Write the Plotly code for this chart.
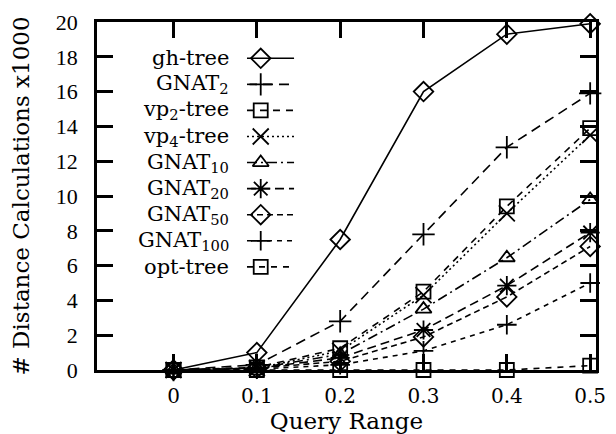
import plotly.graph_objects as go

# ---------------- data ----------------
query_range = [0, 0.1, 0.2, 0.3, 0.4, 0.5]
x_tick_labels = ["0", "0.1", "0.2", "0.3", "0.4", "0.5"]
y_tick_values = [0, 2, 4, 6, 8, 10, 12, 14, 16, 18, 20]

series_names = ["gh-tree", "GNAT<sub>2</sub>", "vp<sub>2</sub>-tree", "vp<sub>4</sub>-tree",
                "GNAT<sub>10</sub>", "GNAT<sub>20</sub>", "GNAT<sub>50</sub>",
                "GNAT<sub>100</sub>", "opt-tree"]

gh_tree = [0.0, 1.0, 7.5, 16.0, 19.3, 19.9]
gnat_2 = [0.0, 0.3, 2.8, 7.8, 12.8, 15.9]
vp2_tree = [0.0, 0.15, 1.25, 4.5, 9.4, 13.9]
vp4_tree = [0.0, 0.1, 1.1, 4.3, 9.0, 13.5]
gnat_10 = [0.0, 0.1, 0.9, 3.5, 6.45, 9.8]
gnat_20 = [0.0, 0.1, 0.7, 2.3, 4.85, 7.9]
gnat_50 = [0.0, 0.1, 0.5, 1.9, 4.2, 7.1]
gnat_100 = [0.0, 0.05, 0.3, 1.1, 2.6, 5.0]
opt_tree = [0.0, 0.0, 0.0, 0.0, 0.0, 0.25]

all_series = [gh_tree, gnat_2, vp2_tree, vp4_tree, gnat_10, gnat_20, gnat_50, gnat_100, opt_tree]

# ---------------- styles ----------------
symbols = ["diamond-open", "cross-thin-open", "square-open", "x-thin-open",
           "triangle-up-open", "asterisk-open", "diamond-open", "cross-thin-open", "square-open"]
sizes = [15, 16, 14, 16, 14, 16, 15, 14, 14]
dashes = ["solid", "10px,6px", "7px,6px", "2px,3px", "10px,4px,2px,4px",
          "9px,5px", "6px,4px", "5px,5px", "6px,6px"]

FONT = "DejaVu Serif"
BLACK = "#000000"

fig = go.Figure()

for name, vals, sym, sz, dash in zip(series_names, all_series, symbols, sizes, dashes):
    fig.add_trace(go.Scatter(
        x=query_range, y=vals, mode="lines+markers", name=name,
        line=dict(color=BLACK, width=1.6, dash=dash),
        marker=dict(symbol=sym, size=sz, color=BLACK, line=dict(color=BLACK, width=1.8)),
        cliponaxis=False, showlegend=False,
    ))

# ------------- custom legend (text left, sample on right) -------------
leg_top = 52
leg_step = 26.6
text_right = 234
sample_x0, sample_mid, sample_x1 = 250, 264, 298
for i, (name, sym, sz, dash) in enumerate(zip(series_names, symbols, sizes, dashes)):
    yy = leg_top + i * leg_step
    fig.add_trace(go.Scatter(
        x=[sample_x0, sample_mid, sample_x1], y=[yy, yy, yy], xaxis="x2", yaxis="y2",
        mode="lines", line=dict(color=BLACK, width=1.6, dash=dash),
        showlegend=False, hoverinfo="skip", cliponaxis=False,
    ))
    fig.add_trace(go.Scatter(
        x=[sample_mid], y=[yy], xaxis="x2", yaxis="y2", mode="markers",
        marker=dict(symbol=sym, size=sz, color=BLACK, line=dict(color=BLACK, width=1.8)),
        showlegend=False, hoverinfo="skip", cliponaxis=False,
    ))
    fig.add_annotation(x=text_right, y=yy, xref="x2", yref="y2", text=name,
                       showarrow=False, xanchor="right", yanchor="middle",
                       font=dict(family=FONT, size=21, color=BLACK))

axis_common = dict(
    showline=True, linecolor=BLACK, linewidth=2.5, mirror="ticks",
    ticks="inside", tickcolor=BLACK, tickwidth=2.5, ticklen=16,
    showgrid=False, zeroline=False,
)

fig.update_layout(
    width=616, height=434,
    margin=dict(l=97, r=10, t=15, b=64),
    paper_bgcolor="white", plot_bgcolor="white",
    font=dict(family=FONT, color=BLACK),
    xaxis=dict(range=[-0.0918, 0.507], tickvals=query_range, ticktext=x_tick_labels,
               tickfont=dict(family=FONT, size=20, color=BLACK), ticklabelstandoff=6,
               title=dict(text="Query Range", font=dict(family=FONT, size=23, color=BLACK),
                          standoff=0),
               **axis_common),
    yaxis=dict(range=[0, 20], tickvals=y_tick_values,
               tickfont=dict(family="Liberation Serif", size=22, color=BLACK),
               ticklabelstandoff=12,
               title=dict(text="# Distance Calculations x1000",
                          font=dict(family=FONT, size=23, color=BLACK), standoff=20),
               **axis_common),
    xaxis2=dict(overlaying="x", range=[97, 606], visible=False, anchor="y2"),
    yaxis2=dict(overlaying="y", range=[370, 15], visible=False, anchor="x2"),
)

fig.write_html("out.html", config={"displayModeBar": False},
               post_script="document.body.style.margin='0px';")
